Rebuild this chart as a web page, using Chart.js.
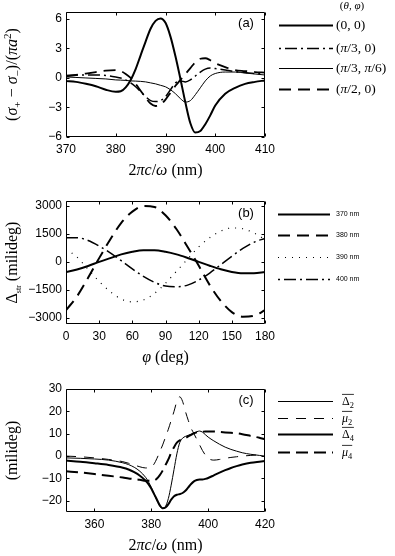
<!DOCTYPE html>
<html><head><meta charset="utf-8">
<script src="https://cdn.jsdelivr.net/npm/chart.js@4/dist/chart.umd.min.js"></script>
<style>
html,body{margin:0;padding:0;background:#fff;}
#wrap{position:relative;width:395px;height:556px;overflow:hidden;background:#fff;}
canvas{position:absolute;left:0;}
</style></head><body>
<div id="wrap">
<canvas id="ca" width="395" height="180" style="top:0px"></canvas>
<canvas id="cb" width="395" height="185" style="top:180px"></canvas>
<canvas id="cc" width="395" height="191" style="top:365px"></canvas>
</div>
<script>
// ---------- Panel (a) data ----------
const aX = [370,372,374,376,378,380,381,382,383,384,385,386,387,388,389,390,391,392,393,394,395,396,397,398,399,400,402,404,406,408,410];
const a_0_0 = [-0.3,-0.4,-0.6,-0.85,-1.2,-1.4,-1.35,-0.95,-0.2,0.9,2.3,3.7,5.0,5.8,6.05,5.6,4.2,2.2,-0.1,-2.5,-4.6,-5.55,-5.4,-4.7,-3.8,-2.8,-1.6,-1.0,-0.6,-0.4,-0.25];
const a_pi3_0 = [0.25,0.3,0.3,0.3,0.25,0.1,0.0,-0.2,-0.5,-0.9,-1.4,-1.9,-2.3,-2.4,-2.3,-1.9,-1.2,-0.5,-0.3,-0.4,-0.2,0.2,0.6,0.9,1.0,0.95,0.8,0.65,0.55,0.45,0.4];
const a_pi3_pi6 = [0.1,0.05,0.0,-0.05,-0.1,-0.2,-0.22,-0.25,-0.3,-0.32,-0.35,-0.4,-0.5,-0.6,-0.75,-0.9,-1.2,-1.6,-2.1,-2.45,-2.3,-1.7,-1.0,-0.3,0.2,0.45,0.6,0.6,0.5,0.4,0.3];
const a_pi2_0 = [0.15,0.3,0.45,0.6,0.75,0.8,0.7,0.4,0.0,-0.6,-1.3,-2.0,-2.6,-2.85,-2.7,-2.2,-1.5,-0.8,-0.2,0.4,1.0,1.6,1.95,2.0,1.8,1.5,1.1,0.8,0.7,0.6,0.55];
const aLabels = ['$(0, 0)$', '$(π/3, 0)$', '$(π/3, π/6)$', '$(π/2, 0)$'];
const aHeader = '$(θ, φ)$';
const aXTicks = [370,380,390,400,410];
const aYTicks = [-6,-3,0,3,6];

// ---------- Panel (b) data ----------
const bX = [0,10,20,30,40,50,60,70,80,90,100,110,120,130,140,150,160,170,180];
const b370 = [-550,-410,-220,0,200,400,540,620,620,540,400,210,0,-210,-400,-540,-610,-610,-550];
const b380 = [-2600,-1850,-850,200,1200,2100,2700,3000,2950,2500,1750,800,-200,-1250,-2100,-2700,-2950,-2900,-2600];
const b390 = [700,250,-400,-1050,-1600,-2000,-2150,-2050,-1700,-1150,-500,150,800,1300,1650,1820,1780,1550,1200];
const b400 = [1300,1300,1150,850,480,60,-380,-780,-1100,-1300,-1340,-1250,-980,-600,-150,300,720,1050,1260];
const bLabels = ['370 nm', '380 nm', '390 nm', '400 nm'];
const bXTicks = [0,30,60,90,120,150,180];
const bYTicks = [-3000,-1500,0,1500,3000];

// ---------- Panel (c) data ----------
const cX = [350,355,360,365,370,372,374,376,378,379,380,381,382,383,384,385,386,387,388,389,390,391,392,393,394,395,396,397,398,399,400,402,404,406,408,410,412,415,418,420];
const cD2 = [-0.8,-1.0,-1.3,-1.8,-3.0,-3.8,-5.0,-6.8,-9.5,-11.5,-14,-17,-20,-22.5,-23.5,-22.5,-19,-13,-6,1,6,8,8.8,9.3,9.8,10.3,10.9,11.2,10.7,9.6,8.5,6.8,5.3,4.0,3.0,2.2,1.5,0.8,0.3,0];
const cM2 = [0,-0.3,-0.8,-1.5,-2.5,-3.2,-4.0,-4.8,-5.3,-5.3,-5.0,-3.5,-1,2,5,8.5,12,16,20,24.5,26.5,24.5,20,16,12.5,10,7.5,5,2.5,0.5,-1,-1.8,-1.5,-1.0,-0.6,-0.3,0,0.3,0.5,0.5];
const cD4 = [-2,-2.5,-3.2,-4,-5.2,-6,-7.2,-8.8,-11,-12.5,-14.5,-17,-19.5,-22,-23.3,-23,-21.5,-19.5,-18,-17.3,-17,-16.5,-15.5,-14,-12.5,-11.3,-10.7,-10.5,-10.5,-10.2,-9.8,-8.6,-7.4,-6.3,-5.3,-4.5,-3.8,-3.0,-2.5,-2.2];
const cM4 = [-6.8,-7.3,-8,-8.8,-9.6,-10,-10.3,-10.6,-11,-11,-10.8,-10.8,-10,-8.5,-6.5,-4,-1.5,1.5,4,6,7,7.5,8,8.8,9.5,10.2,10.6,10.8,10.9,11,11,11,10.8,10.6,10.4,10.2,9.8,9,8.2,7.5];
const cLabels = ['$Δ_2$', '$μ_2$', '$Δ_4$', '$μ_4$'];
const cXTicks = [360,380,400,420];
const cYTicks = [-20,-10,0,10,20,30];

// ---------- helpers ----------
const SERIF = '"Liberation Serif", "Times New Roman", serif';
const SANS = '"Liberation Sans", Arial, sans-serif';

function parseRich(str) {
  const out = []; let math = false;
  for (let i = 0; i < str.length; i++) {
    const ch = str[i];
    if (ch === '$') { math = !math; continue; }
    if (math && (ch === '_' || ch === '^')) {
      let content, small = 0.7; i++;
      if (str[i] === '{') { const j = str.indexOf('}', i); content = str.slice(i + 1, j); i = j; small = 0.5; }
      else content = str[i];
      out.push({t: content, lvl: ch === '_' ? 1 : -1, it: false, sc: small});
      continue;
    }
    out.push({t: ch, lvl: 0, it: math && /[a-zα-ω]/.test(ch), sc: 1});
  }
  return out;
}
function drawRich(ctx, str, x, y, size, opt) {
  opt = opt || {};
  const fam = opt.family || SERIF;
  const segs = parseRich(str);
  const fontOf = s => (s.it ? 'italic ' : '') + (size * s.sc) + 'px ' + fam;
  let w = 0;
  segs.forEach(s => { ctx.font = fontOf(s); s.w = ctx.measureText(s.t).width; w += s.w; });
  ctx.save();
  ctx.translate(x, y);
  if (opt.rot) ctx.rotate(opt.rot);
  ctx.textBaseline = 'alphabetic'; ctx.textAlign = 'left'; ctx.fillStyle = '#000';
  let cx = opt.align === 'center' ? -w / 2 : (opt.align === 'right' ? -w : 0);
  const x0 = cx;
  segs.forEach(s => {
    ctx.font = fontOf(s);
    const dy = s.lvl === 1 ? size * 0.25 : (s.lvl === -1 ? -size * 0.4 : 0);
    ctx.fillText(s.t, cx, dy);
    cx += s.w;
  });
  if (opt.overline) {
    ctx.strokeStyle = '#000'; ctx.lineWidth = 0.8; ctx.setLineDash([]);
    ctx.beginPath(); ctx.moveTo(x0, -size * 0.88); ctx.lineTo(cx, -size * 0.88); ctx.stroke();
  }
  ctx.restore();
  return w;
}

const EXTRAS = {
  ca: {
    legX0: 279, legX1: 333, legTX: 336, legY: [25, 48, 68, 89], legSize: 13.5, legFamily: SERIF,
    header: {text: aHeader, x: 352, y: 9, size: 11},
    panel: {text: '(a)', x: 246, y: 23},
    xTitle: {text: '$2πc/ω$ (nm)', y: 175},
    yTitle: {text: '$(σ_+ − σ_−)/(πa^2)$'}
  },
  cb: {
    legX0: 278, legX1: 330, legTX: 336, legY: [34, 55, 77, 99], legSize: 7, legFamily: SANS,
    panel: {text: '(b)', x: 246, y: 33},
    xTitle: {text: '$φ$ (deg)', y: 182},
    yTitle: {text: '$Δ_{str}$ (milideg)'}
  },
  cc: {
    legX0: 278, legX1: 333, legTX: 342, legY: [36, 53, 69, 87], legSize: 12, legFamily: SERIF, overline: true,
    panel: {text: '(c)', x: 246, y: 35},
    xTitle: {text: '$2πc/ω$ (nm)', y: 185},
    yTitle: {text: '(milideg)'}
  }
};

const matlabPlugin = {
  id: 'matlab',
  afterDraw(chart) {
    const ex = EXTRAS[chart.canvas.id];
    const ctx = chart.ctx, a = chart.chartArea;
    ctx.save();
    ctx.strokeStyle = '#000'; ctx.lineWidth = 1; ctx.setLineDash([]);
    const L = Math.round(a.left) + 0.5, R = Math.round(a.right) - 0.5, T = Math.round(a.top) + 0.5, B = Math.round(a.bottom) - 0.5;
    const xs = chart.scales.x, ys = chart.scales.y, tl = 3;
    ctx.beginPath();
    ctx.rect(L, T, R - L, B - T);
    xs.ticks.forEach(t => { const p = Math.round(xs.getPixelForValue(t.value)) + 0.5; ctx.moveTo(p, B); ctx.lineTo(p, B - tl); ctx.moveTo(p, T); ctx.lineTo(p, T + tl); });
    ys.ticks.forEach(t => { const p = Math.round(ys.getPixelForValue(t.value)) + 0.5; ctx.moveTo(L, p); ctx.lineTo(L + tl, p); ctx.moveTo(R, p); ctx.lineTo(R - tl, p); });
    ctx.stroke();

    // legend
    chart.data.datasets.forEach((ds, i) => {
      const y = ex.legY[i] + 0.5;
      const dash = ds.borderDash || [];
      ctx.beginPath();
      ctx.setLineDash(dash);
      ctx.lineDashOffset = dash.length === 4 ? dash[0] + dash[1] : 0;
      ctx.lineWidth = ds.borderWidth; ctx.lineCap = 'butt';
      ctx.moveTo(ex.legX0, y); ctx.lineTo(ex.legX1, y); ctx.stroke();
      ctx.setLineDash([]); ctx.lineDashOffset = 0;
      drawRich(ctx, ds.label, ex.legTX, ex.legY[i] + ex.legSize * 0.33, ex.legSize, {family: ex.legFamily, overline: ex.overline});
    });
    if (ex.header) drawRich(ctx, ex.header.text, ex.header.x, ex.header.y, ex.header.size, {align: 'center'});

    // panel label
    ctx.fillStyle = '#000'; ctx.font = '13px ' + SANS; ctx.textAlign = 'center'; ctx.textBaseline = 'middle';
    ctx.fillText(ex.panel.text, ex.panel.x, ex.panel.y);

    // axis titles
    const cxm = (a.left + a.right) / 2, cym = (a.top + a.bottom) / 2;
    drawRich(ctx, ex.xTitle.text, cxm, ex.xTitle.y, 16, {align: 'center'});
    drawRich(ctx, ex.yTitle.text, 17, cym, 16, {align: 'center', rot: -Math.PI / 2});
    ctx.restore();
  }
};

function pts(xs, ys) { return xs.map((x, i) => ({x: x, y: ys[i]})); }
function fmt(v) { return String(v).replace('-', '\u2212'); }

function makeChart(id, cfg) {
  const tickFont = {family: SANS, size: 12};
  return new Chart(document.getElementById(id), {
    type: 'line',
    data: {datasets: cfg.series.map(s => ({
      label: s.label, data: pts(cfg.x, s.y), borderColor: '#000', backgroundColor: '#000',
      borderWidth: s.w, borderDash: s.dash || [], pointRadius: 0, fill: false,
      cubicInterpolationMode: 'monotone', borderCapStyle: 'butt'
    }))},
    options: {
      responsive: false, animation: false, events: [],
      layout: {padding: {left: 0, right: 130, top: cfg.top, bottom: 0}},
      plugins: {legend: {display: false}, tooltip: {enabled: false}},
      scales: {
        x: {
          type: 'linear', min: cfg.xmin, max: cfg.xmax,
          grid: {display: false, drawTicks: false}, border: {display: false},
          ticks: {font: tickFont, color: '#000', padding: 5, autoSkip: false, maxRotation: 0, callback: fmt},
          afterBuildTicks: s => { s.ticks = cfg.xt.map(v => ({value: v})); },
          afterFit: s => { s.height = cfg.xh; }
        },
        y: {
          type: 'linear', min: cfg.ymin, max: cfg.ymax,
          grid: {display: false, drawTicks: false}, border: {display: false},
          ticks: {font: tickFont, color: '#000', padding: 4, autoSkip: false, callback: fmt},
          afterBuildTicks: s => { s.ticks = cfg.yt.map(v => ({value: v})); },
          afterFit: s => { s.width = 66; }
        }
      }
    },
    plugins: [matlabPlugin]
  });
}

makeChart('ca', {
  x: aX, xmin: 370, xmax: 410, ymin: -6, ymax: 6.7, xt: aXTicks, yt: aYTicks, top: 12, xh: 43,
  series: [
    {label: aLabels[0], y: a_0_0, w: 2},
    {label: aLabels[1], y: a_pi3_0, w: 1.5, dash: [12, 4, 2, 4]},
    {label: aLabels[2], y: a_pi3_pi6, w: 1},
    {label: aLabels[3], y: a_pi2_0, w: 1.8, dash: [12, 7]}
  ]
});
makeChart('cb', {
  x: bX, xmin: 0, xmax: 180, ymin: -3340, ymax: 3270, xt: bXTicks, yt: bYTicks, top: 21, xh: 41,
  series: [
    {label: bLabels[0], y: b370, w: 2},
    {label: bLabels[1], y: b380, w: 2, dash: [12, 7]},
    {label: bLabels[2], y: b390, w: 1.2, dash: [1, 6]},
    {label: bLabels[3], y: b400, w: 1.5, dash: [12, 4, 2, 4]}
  ]
});
makeChart('cc', {
  x: cX, xmin: 350, xmax: 420, ymin: -25, ymax: 30, xt: cXTicks, yt: cYTicks, top: 24, xh: 44,
  series: [
    {label: cLabels[0], y: cD2, w: 1},
    {label: cLabels[1], y: cM2, w: 1, dash: [10, 8]},
    {label: cLabels[2], y: cD4, w: 2},
    {label: cLabels[3], y: cM4, w: 2, dash: [12, 6]}
  ]
});
</script>
</body></html>
